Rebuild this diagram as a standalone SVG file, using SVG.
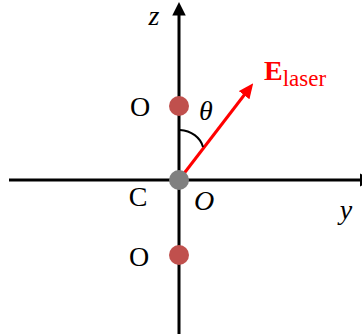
<svg xmlns="http://www.w3.org/2000/svg" width="362" height="334" viewBox="0 0 362 334">
<style>
.ax{stroke:#000;stroke-width:3;fill:none}
.t{font-family:"Liberation Serif","Times New Roman",serif;font-size:28px;fill:#000}
.i{font-style:italic}
.o{fill:#C0504D}
.c{fill:#808080}
</style>
<defs>
<marker id="ak" markerWidth="4.5" markerHeight="4.5" refX="0.5" refY="2.25" orient="auto" markerUnits="strokeWidth">
<path d="M0,0 L4.5,2.25 L0,4.5 Z" fill="#000"/>
</marker>
<marker id="ar" markerWidth="5" markerHeight="4.5" refX="0.5" refY="2.25" orient="auto" markerUnits="strokeWidth">
<path d="M0,0 L5,2.25 L0,4.5 Z" fill="#FF0000"/>
</marker>
</defs>
<rect width="362" height="334" fill="#fff"/>
<g id="connectors">
<line class="ax" x1="9" y1="180" x2="361" y2="180" marker-end="url(#ak)"/>
<line class="ax" x1="179" y1="334" x2="179" y2="14" marker-end="url(#ak)"/>
<line x1="179" y1="180" x2="245" y2="94" stroke="#FF0000" stroke-width="3" marker-end="url(#ar)"/>
<path d="M180,130 A25 22 0 0 1 203,147" fill="none" stroke="#000" stroke-width="2"/>
</g>
<g id="atom-O-top"><circle class="o" cx="179" cy="106" r="10"/><text class="t" x="140" y="116" text-anchor="middle">O</text></g>
<g id="atom-C"><circle class="c" cx="179" cy="180" r="10"/><text class="t" x="138" y="206" text-anchor="middle">C</text></g>
<g id="atom-O-bottom"><circle class="o" cx="179" cy="255" r="10"/><text class="t" x="139" y="266" text-anchor="middle">O</text></g>
<g id="labels">
<text class="t i" x="154" y="25" text-anchor="middle">z</text>
<text class="t i" x="206" y="120" text-anchor="middle">θ</text>
<text class="t i" x="204" y="210" text-anchor="middle">O</text>
<text class="t i" x="346" y="219" text-anchor="middle">y</text>
<text x="264" y="80" font-family="'Liberation Serif','Times New Roman',serif" fill="#FF0000"><tspan font-size="28px" font-weight="bold">E</tspan><tspan font-size="23px" dy="6">laser</tspan></text>
</g>
</svg>
